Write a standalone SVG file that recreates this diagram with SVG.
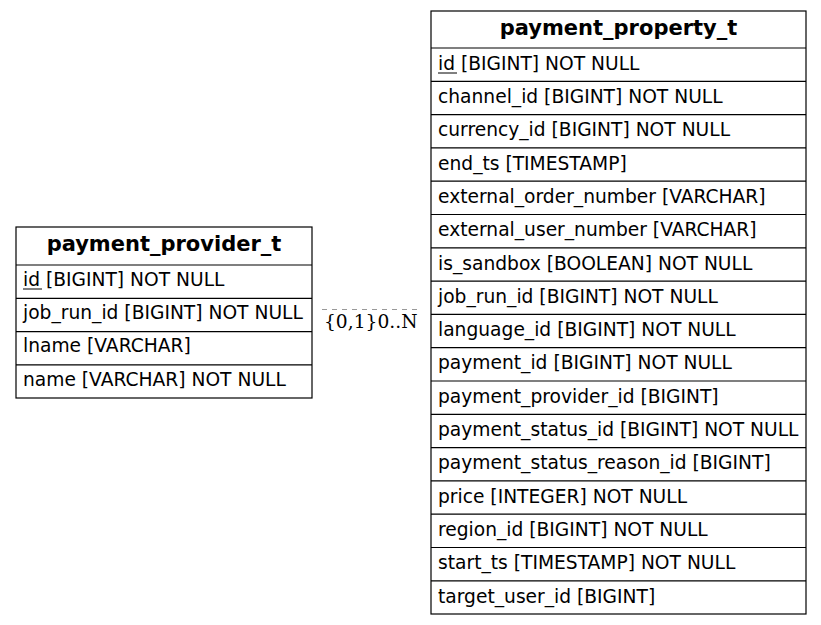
<svg xmlns="http://www.w3.org/2000/svg" width="821" height="625" viewBox="0 0 821 625">
<style>
.box{fill:#fff;stroke:#000;stroke-width:1.2}
.sep{stroke:#000;stroke-width:1.2}
.h{font-family:"DejaVu Sans",sans-serif;font-size:21px;font-weight:bold;text-anchor:middle;fill:#000}
.t{font-family:"DejaVu Sans",sans-serif;font-size:18.67px;fill:#000}
.l{font-family:"DejaVu Serif","Liberation Serif",serif;font-size:18.67px;fill:#000}
.u{stroke:#000;stroke-width:1}
</style>
<rect width="821" height="625" fill="#fff"/>
<g id="connectors">
<line x1="322" y1="309.5" x2="418" y2="309.5" stroke="#999" stroke-width="1" stroke-dasharray="5,5"/>
<text class="l" x="324" y="328">{0,1}0..N</text>
</g>
<g id="payment_provider_t">
<rect class="box" x="16" y="227" width="296" height="171"/>
<line class="sep" x1="16" y1="265" x2="312" y2="265"/>
<line class="sep" x1="16" y1="298.3" x2="312" y2="298.3"/>
<line class="sep" x1="16" y1="331.6" x2="312" y2="331.6"/>
<line class="sep" x1="16" y1="364.9" x2="312" y2="364.9"/>
<text class="h" x="164" y="251">payment_provider_t</text>
<text class="t" x="23" y="286">id [BIGINT] NOT NULL</text>
<line class="u" x1="23" y1="289" x2="42" y2="289"/>
<text class="t" x="23" y="319">job_run_id [BIGINT] NOT NULL</text>
<text class="t" x="23" y="352">lname [VARCHAR]</text>
<text class="t" x="23" y="386">name [VARCHAR] NOT NULL</text>
</g>
<g id="payment_property_t">
<rect class="box" x="431" y="11" width="375" height="603"/>
<line class="sep" x1="431" y1="48" x2="806" y2="48"/>
<line class="sep" x1="431" y1="81.3" x2="806" y2="81.3"/>
<line class="sep" x1="431" y1="114.6" x2="806" y2="114.6"/>
<line class="sep" x1="431" y1="147.9" x2="806" y2="147.9"/>
<line class="sep" x1="431" y1="181.2" x2="806" y2="181.2"/>
<line class="sep" x1="431" y1="214.5" x2="806" y2="214.5"/>
<line class="sep" x1="431" y1="247.8" x2="806" y2="247.8"/>
<line class="sep" x1="431" y1="281.1" x2="806" y2="281.1"/>
<line class="sep" x1="431" y1="314.4" x2="806" y2="314.4"/>
<line class="sep" x1="431" y1="347.7" x2="806" y2="347.7"/>
<line class="sep" x1="431" y1="381" x2="806" y2="381"/>
<line class="sep" x1="431" y1="414.3" x2="806" y2="414.3"/>
<line class="sep" x1="431" y1="447.6" x2="806" y2="447.6"/>
<line class="sep" x1="431" y1="480.9" x2="806" y2="480.9"/>
<line class="sep" x1="431" y1="514.2" x2="806" y2="514.2"/>
<line class="sep" x1="431" y1="547.5" x2="806" y2="547.5"/>
<line class="sep" x1="431" y1="580.8" x2="806" y2="580.8"/>
<text class="h" x="618.5" y="35">payment_property_t</text>
<text class="t" x="438" y="70">id [BIGINT] NOT NULL</text>
<line class="u" x1="438" y1="73" x2="457" y2="73"/>
<text class="t" x="438" y="103">channel_id [BIGINT] NOT NULL</text>
<text class="t" x="438" y="136">currency_id [BIGINT] NOT NULL</text>
<text class="t" x="438" y="170">end_ts [TIMESTAMP]</text>
<text class="t" x="438" y="203">external_order_number [VARCHAR]</text>
<text class="t" x="438" y="236">external_user_number [VARCHAR]</text>
<text class="t" x="438" y="270">is_sandbox [BOOLEAN] NOT NULL</text>
<text class="t" x="438" y="303">job_run_id [BIGINT] NOT NULL</text>
<text class="t" x="438" y="336">language_id [BIGINT] NOT NULL</text>
<text class="t" x="438" y="369">payment_id [BIGINT] NOT NULL</text>
<text class="t" x="438" y="403">payment_provider_id [BIGINT]</text>
<text class="t" x="438" y="436">payment_status_id [BIGINT] NOT NULL</text>
<text class="t" x="438" y="469">payment_status_reason_id [BIGINT]</text>
<text class="t" x="438" y="503">price [INTEGER] NOT NULL</text>
<text class="t" x="438" y="536">region_id [BIGINT] NOT NULL</text>
<text class="t" x="438" y="569">start_ts [TIMESTAMP] NOT NULL</text>
<text class="t" x="438" y="603">target_user_id [BIGINT]</text>
</g>
</svg>
